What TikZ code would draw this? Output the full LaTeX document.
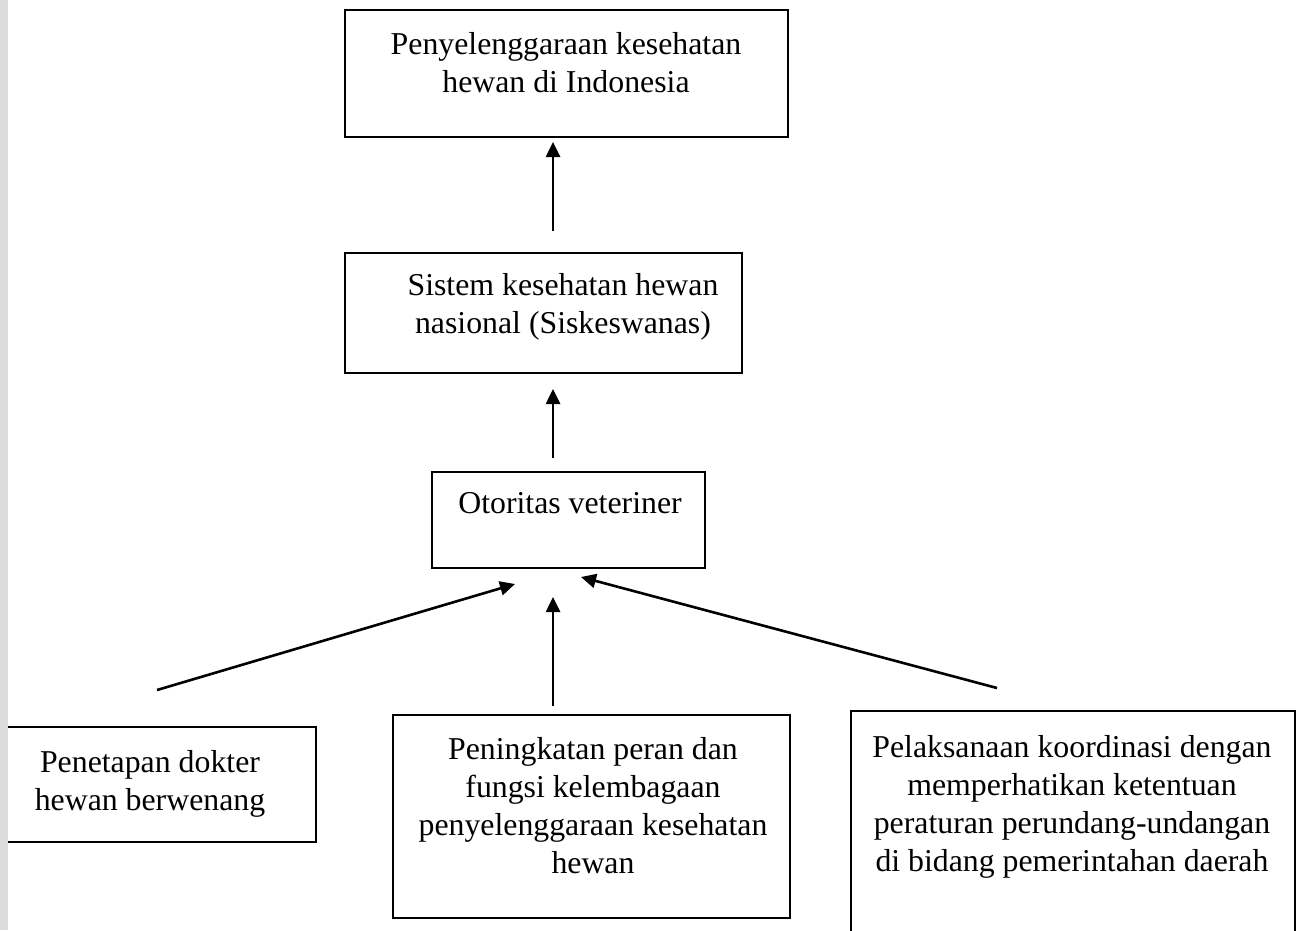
\documentclass[tikz,border=0pt]{standalone}
\usepackage{fontspec}
\setmainfont{Liberation Serif}
\usetikzlibrary{arrows.meta}
\begin{document}
\begin{tikzpicture}[x=1pt,y=-1pt,
  boxnode/.style={draw=black,line width=1.8pt,rectangle,inner sep=0pt},
  txt/.style={align=center,inner sep=0pt,anchor=base,font=\fontsize{31.8}{38}\selectfont},
  arr/.style={line width=2.6pt,-{Triangle[length=15pt,width=14pt]}}]
\useasboundingbox (0,0) rectangle (1300,930);
\fill[white] (0,0) rectangle (1300,930);
% boxes
\node[boxnode,minimum width=443pt,minimum height=127pt] (top) at (566.5,73.5) {};
\node[boxnode,minimum width=397pt,minimum height=120pt] (sys) at (543.5,313) {};
\node[boxnode,minimum width=273pt,minimum height=96pt] (oto) at (568.5,520) {};
\node[boxnode,minimum width=318pt,minimum height=115pt] (left) at (157,784.5) {};
\node[boxnode,minimum width=397pt,minimum height=203pt] (mid) at (591.5,816.5) {};
\node[boxnode,minimum width=444pt,minimum height=230pt] (right) at (1073,826) {};
% texts (anchor = baseline of last line)
\node[txt] (ttop) at (566,92) {Penyelenggaraan kesehatan\\hewan di Indonesia};
\node[txt] (tsys) at (563,333) {Sistem kesehatan hewan\\nasional (Siskeswanas)};
\node[txt] (toto) at (570,513) {Otoritas veteriner};
\node[txt] (tleft) at (150,810) {Penetapan dokter\\hewan berwenang};
\node[txt] (tmid) at (593,873) {Peningkatan peran dan\\fungsi kelembagaan\\penyelenggaraan kesehatan\\hewan};
\node[txt] (tright) at (1072,871) {Pelaksanaan koordinasi dengan\\memperhatikan ketentuan\\peraturan perundang-undangan\\di bidang pemerintahan daerah};
% arrow end points
\coordinate (a1s) at (553,231);
\coordinate (a1e) at (553,142);
\coordinate (a2s) at (553,458);
\coordinate (a2e) at (553,389);
\coordinate (a3s) at (157,690);
\coordinate (a3e) at (515,584);
\coordinate (a4s) at (553,706);
\coordinate (a4e) at (553,597);
\coordinate (a5s) at (997,688);
\coordinate (a5e) at (581,577);
\draw[arr] (a1s) -- (a1e);
\draw[arr] (a2s) -- (a2e);
\draw[arr] (a3s) -- (a3e);
\draw[arr] (a4s) -- (a4e);
\draw[arr] (a5s) -- (a5e);
% grey margin strip
\fill[black!14] (0,0) rectangle (8,930);
\end{tikzpicture}
\end{document}
